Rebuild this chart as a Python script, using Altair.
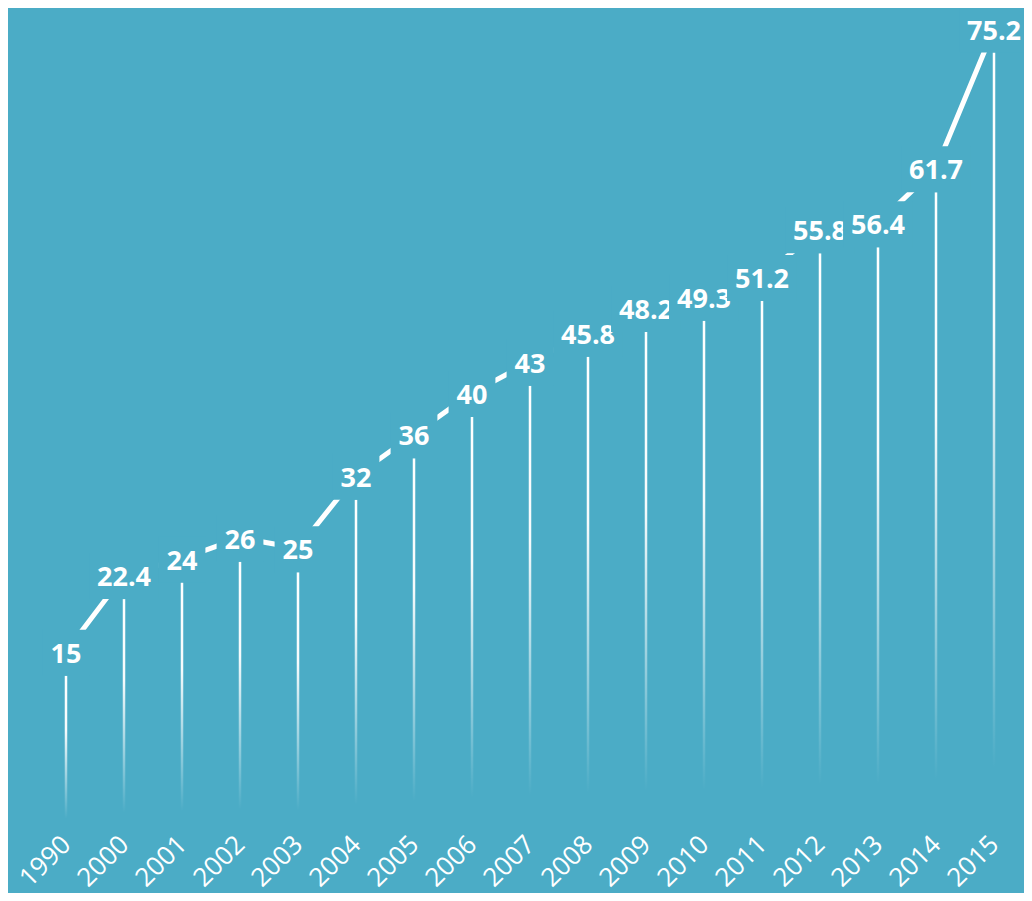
import altair as alt
import pandas as pd

years = ["1990", "2000", "2001", "2002", "2003", "2004", "2005", "2006", "2007",
         "2008", "2009", "2010", "2011", "2012", "2013", "2014", "2015"]
values = [15, 22.4, 24, 26, 25, 32, 36, 40, 43, 45.8, 48.2, 49.3, 51.2, 55.8, 56.4, 61.7, 75.2]
labels = ["15", "22.4", "24", "26", "25", "32", "36", "40", "43", "45.8", "48.2",
          "49.3", "51.2", "55.8", "56.4", "61.7", "75.2"]

df = pd.DataFrame({"year": years, "value": values, "label": labels,
                   "i": list(range(len(years)))})

BG = "#4BACC6"
FONT = "Open Sans"

x = alt.X("year:O", sort=years,
          scale=alt.Scale(type="point", padding=0),
          axis=alt.Axis(labelAngle=-45, labelAlign="right", labelBaseline="middle",
                        labelColor="white", labelFont=FONT, labelFontSize=26,
                        labelPadding=9, ticks=False, tickSize=0, domain=False,
                        grid=False, title=None, labelOverlap=False))
y = alt.Y("value:Q", scale=alt.Scale(domain=[0, 79.5], nice=False, zero=True), axis=None)

grad = alt.Gradient(
    gradient="linear", x1=0, x2=0, y1=0, y2=1,
    stops=[alt.GradientStop(color="rgba(255,255,255,1)", offset=0),
           alt.GradientStop(color="rgba(255,255,255,0.95)", offset=0.35),
           alt.GradientStop(color="rgba(255,255,255,0)", offset=0.92)])

base = alt.Chart().transform_calculate(
    w="(length(datum.label) - (indexof(datum.label, '.') >= 0 ? 1 : 0)) * 15.4"
      " + (indexof(datum.label, '.') >= 0 ? 7.7 : 0) + 16"
)

bars = base.mark_bar(size=2.5, color=grad).encode(x=x, y=y)
line = base.mark_line(color="white", strokeWidth=5, yOffset=-24).encode(x=x, y=y)

layers = [bars, line]
for i in range(len(years)):
    b = base.transform_filter(f"datum.i == {i}")
    box = b.mark_bar(color=BG, yOffset=-46, y2Offset=0).encode(
        x=x, y=y, y2=alt.Y2("value:Q"), size=alt.Size("w:Q", scale=None))
    txt = b.mark_text(color="white", font=FONT, fontSize=27, fontWeight="bold",
                      baseline="alphabetic", dy=-13).encode(x=x, y=y, text="label:N")
    layers += [box, txt]

chart = alt.layer(*layers, data=df).properties(
    width=928, height=823,
    padding={"left": 58, "top": 0, "right": 30, "bottom": 62},
    autosize="none",
    background=BG,
).configure_view(stroke=None)

chart.save("out.html", embed_options={"renderer": "svg", "actions": False})
